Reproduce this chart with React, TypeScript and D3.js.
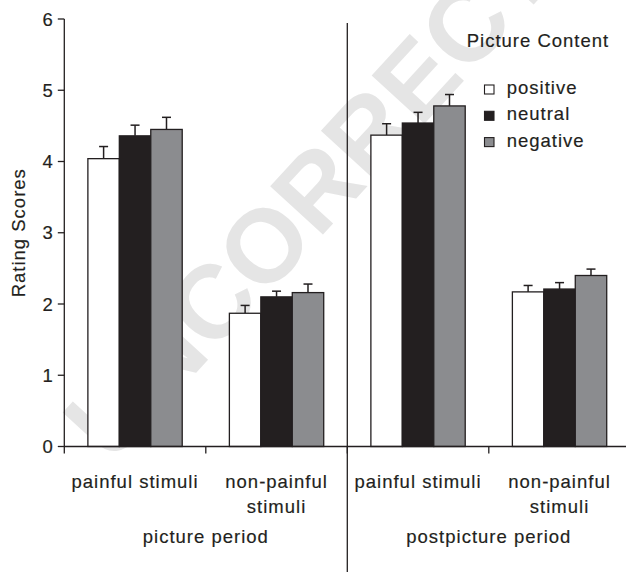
import React from "react";
import * as d3 from "d3";

// Rating scores per stimulus condition, for each picture content
const periods = ["picture period", "postpicture period"];
const conditionKeys = ["pic-painful", "pic-nonpainful", "post-painful", "post-nonpainful"];
const conditionLabels = [
  ["painful stimuli"],
  ["non-painful", "stimuli"],
  ["painful stimuli"],
  ["non-painful", "stimuli"],
];
const series = ["positive", "neutral", "negative"];
const positiveMeans = [4.04, 1.87, 4.37, 2.17];
const positiveErr = [0.17, 0.11, 0.16, 0.09];
const neutralMeans = [4.36, 2.1, 4.54, 2.21];
const neutralErr = [0.15, 0.08, 0.15, 0.09];
const negativeMeans = [4.45, 2.16, 4.78, 2.4];
const negativeErr = [0.17, 0.12, 0.16, 0.09];
const yTicks = [0, 1, 2, 3, 4, 5, 6];

const W = 626;
const H = 573;
const INK = "#231f20";
const FONT = "'Liberation Sans', Arial, Helvetica, sans-serif";
const FS = 18.5;
const LS = 1.0;

const fills: Record<string, string> = {
  positive: "#ffffff",
  neutral: "#231f20",
  negative: "#8b8c8f",
};

const means: Record<string, number[]> = {
  positive: positiveMeans,
  neutral: neutralMeans,
  negative: negativeMeans,
};
const errs: Record<string, number[]> = {
  positive: positiveErr,
  neutral: neutralErr,
  negative: negativeErr,
};

export default function App() {
  const y = d3.scaleLinear().domain([0, 6]).range([446.5, 19]);
  const x0 = d3.scaleBand<string>().domain(conditionKeys).range([64.3, 630.3]).padding(0);
  const x1 = d3
    .scaleBand<string>()
    .domain(series)
    .range([0, x0.bandwidth()])
    .paddingInner(0)
    .paddingOuter(0.75);

  const axisY = y(0);
  const axisX = x0.range()[0];
  // boundary between the two periods
  const divider = x0(conditionKeys[2])!;

  const textStyle = {
    fontFamily: FONT,
    fontSize: FS,
    letterSpacing: LS,
    fill: INK,
    stroke: INK,
    strokeWidth: 0.18,
  } as const;

  return (
    <div style={{ position: "absolute", left: 0, top: 0 }}>
      <svg width={W} height={H} viewBox={`0 0 ${W} ${H}`} style={{ display: "block", background: "#fff" }}>
        {/* watermark */}
        <g transform="translate(357,142) rotate(-47.5)">
          <text
            textAnchor="middle"
            dy="0.36em"
            style={{ fontFamily: FONT, fontSize: 104, fontWeight: 700, fill: "#e5e5e5" }}
          >
            UNCORRECTED
          </text>
        </g>

        {/* bars with upward error bars */}
        {conditionKeys.map((key, ci) => (
          <g key={key} transform={`translate(${x0(key)},0)`}>
            {series.map((s) => {
              const v = means[s][ci];
              const e = errs[s][ci];
              const bx = x1(s)!;
              const bw = x1.bandwidth();
              const cx = bx + bw / 2;
              return (
                <g key={s}>
                  <line x1={cx} x2={cx} y1={y(v)} y2={y(v + e)} stroke={INK} strokeWidth={1.5} />
                  <line x1={cx - 4.5} x2={cx + 4.5} y1={y(v + e)} y2={y(v + e)} stroke={INK} strokeWidth={1.5} />
                  <rect
                    x={bx}
                    y={y(v)}
                    width={bw}
                    height={axisY - y(v)}
                    fill={fills[s]}
                    stroke={INK}
                    strokeWidth={1.3}
                  />
                </g>
              );
            })}
          </g>
        ))}

        {/* y axis */}
        <line x1={axisX} x2={axisX} y1={y(6)} y2={axisY + 7} stroke={INK} strokeWidth={1.3} />
        {yTicks.map((t) => (
          <g key={t}>
            <line x1={axisX - 6.5} x2={axisX} y1={y(t)} y2={y(t)} stroke={INK} strokeWidth={1.3} />
            <text x={52.7} y={y(t)} dy="0.36em" textAnchor="end" style={{ ...textStyle, letterSpacing: 0 }}>
              {t}
            </text>
          </g>
        ))}
        <text
          transform={`translate(25,${y(3)}) rotate(-90)`}
          textAnchor="middle"
          style={textStyle}
        >
          Rating Scores
        </text>

        {/* x axis */}
        <line x1={axisX} x2={W} y1={axisY} y2={axisY} stroke={INK} strokeWidth={1.3} />
        {conditionKeys.slice(1).map((k) => (
          <line key={k} x1={x0(k)} x2={x0(k)} y1={axisY} y2={axisY + 7} stroke={INK} strokeWidth={1.3} />
        ))}
        <line x1={divider} x2={divider} y1={23} y2={572} stroke={INK} strokeWidth={1.3} />

        {/* condition labels */}
        {conditionKeys.map((k, ci) => (
          <text key={k} x={x0(k)! + x0.bandwidth() / 2} y={487.5} textAnchor="middle" style={textStyle}>
            {conditionLabels[ci].map((line, li) => (
              <tspan key={li} x={x0(k)! + x0.bandwidth() / 2} dy={li === 0 ? 0 : 25.5}>
                {line}
              </tspan>
            ))}
          </text>
        ))}

        {/* period labels */}
        {periods.map((p, pi) => (
          <text key={p} x={x0(conditionKeys[pi * 2 + 1])!} y={542.7} textAnchor="middle" style={textStyle}>
            {p}
          </text>
        ))}

        {/* legend */}
        <text x={466.7} y={46.7} style={textStyle}>
          Picture Content
        </text>
        {series.map((s, i) => {
          const by = 94 + i * 26.3;
          return (
            <g key={s}>
              <rect x={484.5} y={by - 9} width={9.5} height={9} fill={fills[s]} stroke={INK} strokeWidth={1.1} />
              <text x={506.7} y={by} style={textStyle}>
                {s}
              </text>
            </g>
          );
        })}
      </svg>
    </div>
  );
}
